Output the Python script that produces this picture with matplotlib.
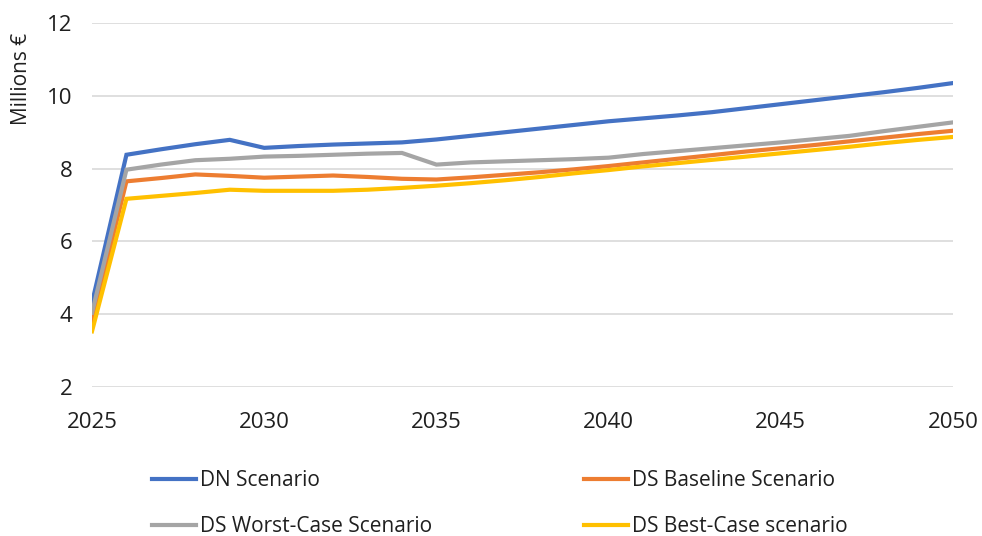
import numpy as np
import matplotlib
matplotlib.use('Agg')
import matplotlib.pyplot as plt

plt.rcParams['font.family'] = ['Open Sans', 'DejaVu Sans']

###--- DATA (millions of euro per year) ---###
years = list(range(2025, 2051))

dn_scenario = [4.31, 8.38, 8.53, 8.67, 8.79, 8.57, 8.62, 8.66, 8.69, 8.72,
               8.80, 8.90, 9.00, 9.10, 9.20, 9.30, 9.38, 9.46, 9.55, 9.66,
               9.77, 9.88, 9.99, 10.10, 10.22, 10.35]

ds_baseline = [3.78, 7.65, 7.74, 7.84, 7.80, 7.75, 7.78, 7.81, 7.77, 7.72,
               7.70, 7.76, 7.83, 7.90, 7.98, 8.07, 8.17, 8.27, 8.37, 8.47,
               8.56, 8.65, 8.75, 8.85, 8.95, 9.04]

ds_worst = [4.04, 7.97, 8.11, 8.23, 8.27, 8.33, 8.35, 8.38, 8.41, 8.43,
            8.11, 8.17, 8.20, 8.23, 8.26, 8.30, 8.40, 8.48, 8.56, 8.64,
            8.72, 8.81, 8.90, 9.03, 9.15, 9.27]

ds_best = [3.53, 7.17, 7.25, 7.33, 7.42, 7.39, 7.39, 7.39, 7.42, 7.47,
           7.53, 7.60, 7.68, 7.77, 7.87, 7.96, 8.06, 8.15, 8.24, 8.33,
           8.42, 8.51, 8.60, 8.70, 8.79, 8.87]

labels = ['DN Scenario', 'DS Baseline Scenario',
          'DS Worst-Case Scenario', 'DS Best-Case scenario']
colors = ['#4472C4', '#ED7D31', '#A5A5A5', '#FFC000']

x_ticks = [2025, 2030, 2035, 2040, 2045, 2050]
y_ticks = [2, 4, 6, 8, 10, 12]

###--- FIGURE ---###
W, H = 982, 536
fig = plt.figure(figsize=(W / 100, H / 100), dpi=100)
ax = fig.add_axes([92 / W, 1 - 387 / H, (953 - 92) / W, (387 - 23) / H])

series = [dn_scenario, ds_baseline, ds_worst, ds_best]
draw_order = [0, 2, 1, 3]
handles = {}
for i in draw_order:
    ln, = ax.plot(years, series[i], color=colors[i], lw=3.0,
                  solid_joinstyle='miter', label=labels[i], zorder=3 + i)
    handles[i] = ln

ax.set_xlim(2025, 2050)
ax.set_ylim(2, 12)
ax.set_xticks(x_ticks)
ax.set_yticks(y_ticks)
ax.tick_params(axis='both', length=0, labelsize=16, colors='#1f1f1f')
ax.tick_params(axis='y', pad=14)
ax.tick_params(axis='x', pad=18)
ax.grid(axis='y', color='#d9d9d9', lw=1.2, zorder=0)
ax.grid(axis='x', visible=False)
for sp in ax.spines.values():
    sp.set_visible(False)

fig.text(22 / W, 1 - 79 / H, 'Millions €', rotation=90, fontsize=15,
         ha='center', va='center', color='#1f1f1f')

# two-column legend under the chart
leg_kw = dict(frameon=False, fontsize=15, handlelength=2.1, handletextpad=0.2,
              labelspacing=1.2, borderpad=0, borderaxespad=0, loc='upper left',
              labelcolor='#1f1f1f')
leg1 = fig.legend([handles[0], handles[2]], [labels[0], labels[2]],
                  bbox_to_anchor=(152 / W, 1 - 470 / H), **leg_kw)
leg2 = fig.legend([handles[1], handles[3]], [labels[1], labels[3]],
                  bbox_to_anchor=(584 / W, 1 - 470 / H), **leg_kw)

fig.savefig('out.png', dpi=100)
